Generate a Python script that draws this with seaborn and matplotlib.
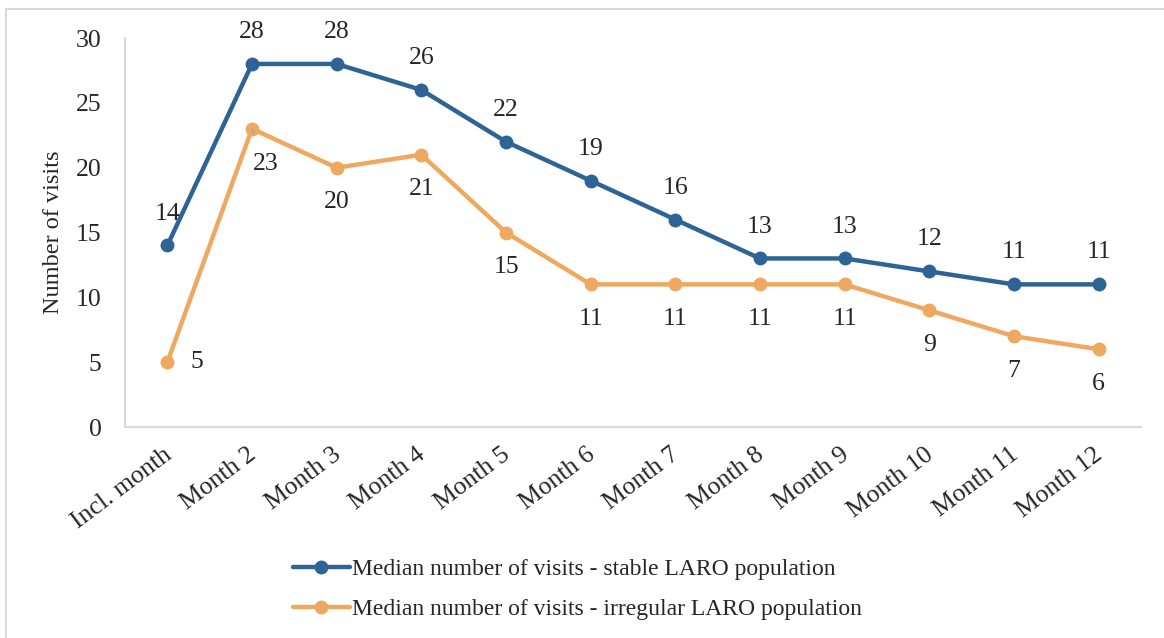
import numpy as np
import pandas as pd
import matplotlib
matplotlib.use("Agg")
import matplotlib.pyplot as plt
import matplotlib.transforms as mtransforms
import seaborn as sns
from matplotlib.patches import Rectangle

months = ["Incl. month", "Month 2", "Month 3", "Month 4", "Month 5", "Month 6",
          "Month 7", "Month 8", "Month 9", "Month 10", "Month 11", "Month 12"]
stable = [14, 28, 28, 26, 22, 19, 16, 13, 13, 12, 11, 11]
irregular = [5, 23, 20, 21, 15, 11, 11, 11, 11, 9, 7, 6]
series_names = ["Median number of visits - stable LARO population",
                "Median number of visits - irregular LARO population"]
colors = ["#2e6495", "#efa85f"]

sns.set_style("white")
plt.rcParams["font.family"] = ["Liberation Serif", "DejaVu Serif"]
plt.rcParams["font.size"] = 18

df = pd.DataFrame({
    "pos": list(range(len(months))) * 2,
    "visits": stable + irregular,
    "series": [series_names[0]] * len(months) + [series_names[1]] * len(months),
})

fig = plt.figure(figsize=(11.64, 6.38), dpi=100)
ax = fig.add_axes([0.1074, 0.3307, 0.8728, 0.6097])

sns.lineplot(data=df, x="pos", y="visits", hue="series", palette=colors,
             marker="o", markersize=10, markeredgewidth=0, linewidth=3.2,
             ax=ax, legend=False)

# data labels
lab_fs = 18.5
for i, v in enumerate(stable):
    ax.annotate(str(v), (i, v), xytext=(0, 23), textcoords="offset points",
                ha="center", va="center", fontsize=lab_fs)
for i, v in enumerate(irregular):
    if i == 0:
        ax.annotate(str(v), (i, v), xytext=(21, 0), textcoords="offset points",
                    ha="center", va="center", fontsize=lab_fs)
    elif i == 1:
        ax.annotate(str(v), (i, v), xytext=(10, -25), textcoords="offset points",
                    ha="center", va="center", fontsize=lab_fs,
                    arrowprops=dict(arrowstyle="-", color="#a6a6a6", lw=1.2,
                                    shrinkA=12, shrinkB=4))
    else:
        ax.annotate(str(v), (i, v), xytext=(0, -25), textcoords="offset points",
                    ha="center", va="center", fontsize=lab_fs)

ax.set_xlim(-0.5, len(months) - 0.5)
ax.set_ylim(0, 30)
ax.set_yticks(range(0, 31, 5))
ax.set_xticks(range(len(months)))
ax.set_xticklabels(months, rotation=37, ha="right", rotation_mode="anchor")
ax.set_xticks([len(months) - 0.5], minor=True)
ax.set_xlabel("")
ax.set_ylabel("Number of visits", fontsize=17.5, va="center")
ax.yaxis.set_label_coords(-0.070, 0.5)

for s in ["top", "right"]:
    ax.spines[s].set_visible(False)
for s in ["left", "bottom"]:
    ax.spines[s].set_color("#d9d9d9")
    ax.spines[s].set_linewidth(1.5)
ax.tick_params(axis="both", which="both", direction="in", length=5, width=1.5,
               color="#d9d9d9", labelsize=18.5)
ax.tick_params(axis="x", pad=12)
ax.tick_params(axis="y", pad=17)

# nudge rotated tick labels so their ends sit under the ticks
shift = mtransforms.ScaledTranslation(-5 / 100, 0, fig.dpi_scale_trans)
for lbl in ax.get_xticklabels():
    lbl.set_transform(lbl.get_transform() + shift)

handles = [plt.Line2D([], [], color=c, lw=3.2, marker="o", markersize=10,
                      markeredgewidth=0) for c in colors]
fig.legend(handles, series_names, loc="center", bbox_to_anchor=(0.496, 0.076),
           frameon=False, fontsize=17, handlelength=2.4, handletextpad=0.1,
           labelspacing=0.8)

# light border around the chart area
fig.patches.append(Rectangle((6 / 1164, -0.1), 1.2, 1 - 9 / 638 + 0.1,
                             transform=fig.transFigure, fill=False,
                             edgecolor="#d9d9d9", linewidth=1.5))

fig.savefig("out.png", dpi=100)
